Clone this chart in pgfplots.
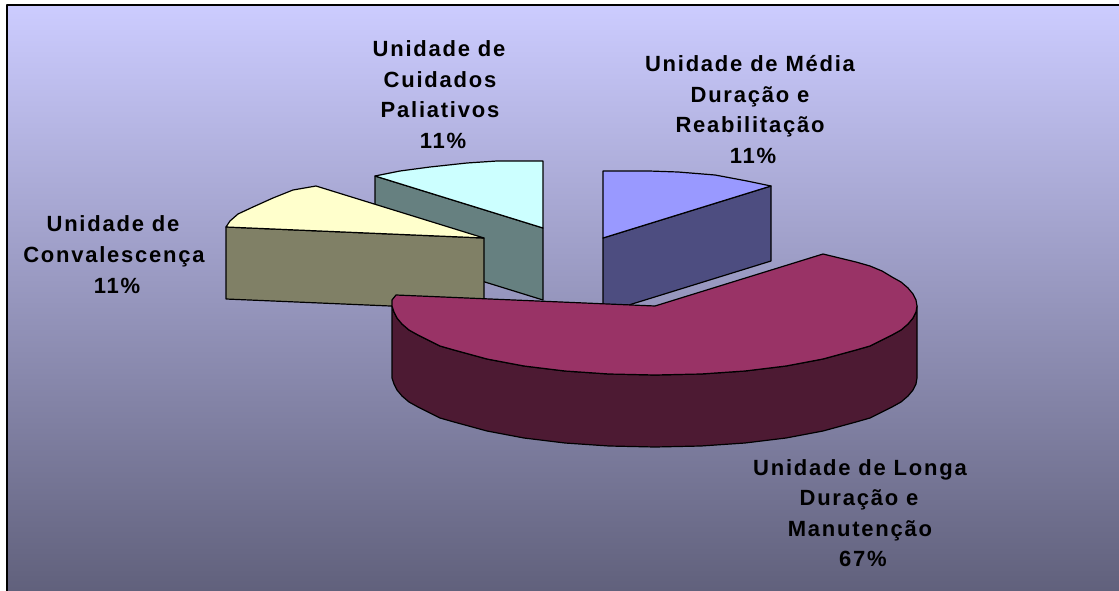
\documentclass[border=0pt]{standalone}
\usepackage{fontspec}
\setmainfont{Liberation Sans}[LetterSpace=8]
\usepackage{pgfplots}
\pgfplotsset{compat=1.18}
\definecolor{bgtop}{HTML}{CCCCFF}
\definecolor{bgbot}{HTML}{5F5F7A}
\definecolor{cyantop}{HTML}{CCFFFF}
\definecolor{cyanside}{HTML}{668080}
\definecolor{yeltop}{HTML}{FFFFCC}
\definecolor{yelside}{HTML}{808066}
\definecolor{blutop}{HTML}{9999FF}
\definecolor{bluside}{HTML}{4D4D80}
\definecolor{martop}{HTML}{993366}
\definecolor{marside}{HTML}{4D1A33}

\begin{document}
\begin{tikzpicture}[
    lab/.style={font=\fontsize{22}{22}\selectfont\bfseries, text=black, inner sep=0pt, anchor=base}
]
\begin{axis}[
    scale only axis,
    width=1119pt, height=591pt,
    xmin=0, xmax=1119, ymin=0, ymax=591,
    y dir=reverse,
    hide axis
]
% page, white round the panel
\addplot[draw=none, fill=white] coordinates {
    (0,0) (1119,0) (1119,591) (0,591)
} -- cycle;
% background panel
\addplot[draw=black, line width=1.2pt, top color=bgtop, bottom color=bgbot] coordinates {
    (7,5) (1130,5) (1130,600) (7,600)
} -- cycle;

\pgfplotsset{every axis plot/.append style={draw=black, line width=1.2pt, line join=round}}

% Unidade de Cuidados Paliativos
\addplot[fill=cyanside] coordinates {
    (375,176) (543,228) (543,300) (375,248)
} -- cycle;
\addplot[fill=cyantop] coordinates {
    (375,176) (400,171) (430,167) (467,163) (497,161) (543,161) (543,228)
} -- cycle;

% Unidade de Convalescenca
\addplot[fill=yelside] coordinates {
    (226,227) (484,238) (484,310) (226,299)
} -- cycle;
\addplot[fill=yeltop] coordinates {
    (226,227) (230,221) (238,214) (253,207) (273,198) (293,190) (316,186) (484,238)
} -- cycle;

% Unidade de Media Duracao e Reabilitacao
\addplot[fill=bluside] coordinates {
    (603,238) (771,186) (771,261) (603,313)
} -- cycle;
\addplot[fill=blutop] coordinates {
    (603,171) (649,171) (678,172) (715,175) (747,181) (771,186) (603,238)
} -- cycle;

% Unidade de Longa Duracao e Manutencao
\addplot[fill=marside] coordinates {
    (917,306) (916,312) (913,318) (908,324) (901,330) (892,335) (882,340) (870,346)
    (856,350) (823,359) (786,366) (745,371) (701,374) (655,375) (609,374) (565,371)
    (524,366) (487,359) (454,350) (440,346) (428,340) (418,335) (409,330) (402,324)
    (397,318) (394,312) (392,306) (392,378) (394,384) (397,390) (402,396) (409,402)
    (418,407) (428,412) (440,418) (454,422) (487,431) (524,438) (565,443) (609,446)
    (655,447) (701,446) (745,443) (786,438) (823,431) (856,422) (870,418) (882,412)
    (892,407) (901,402) (908,396) (913,390) (916,384) (917,378)
} -- cycle;
\addplot[fill=martop] coordinates {
    (655,306) (823,254) (856,262) (870,266) (882,271) (892,277) (901,282) (908,288)
    (913,294) (916,300) (917,306) (916,312) (913,318) (908,324) (901,330) (892,335)
    (882,340) (870,346) (856,350) (823,359) (786,366) (745,371) (701,374) (655,375)
    (609,374) (565,371) (524,366) (487,359) (454,350) (440,346) (428,340) (418,335)
    (409,330) (402,324) (397,318) (394,312) (392,306) (392,300) (396,295)
} -- cycle;

% labels
\node[lab] at (axis cs:439,57) {Unidade de};
\node[lab] at (axis cs:440,88) {Cuidados};
\node[lab] at (axis cs:440,118) {Paliativos};
\node[lab] at (axis cs:443,149) {11\%};

\node[lab] at (axis cs:750,72) {Unidade de Média};
\node[lab] at (axis cs:750,103) {Duração e};
\node[lab] at (axis cs:750,133) {Reabilitação};
\node[lab] at (axis cs:753,164) {11\%};

\node[lab] at (axis cs:113,231) {Unidade de};
\node[lab] at (axis cs:114,262) {Convalescença};
\node[lab] at (axis cs:117,293) {11\%};

\node[lab] at (axis cs:860,475) {Unidade de Longa};
\node[lab] at (axis cs:859,505) {Duração e};
\node[lab] at (axis cs:860,536) {Manutenção};
\node[lab] at (axis cs:863,566) {67\%};
\end{axis}
\end{tikzpicture}
\end{document}
